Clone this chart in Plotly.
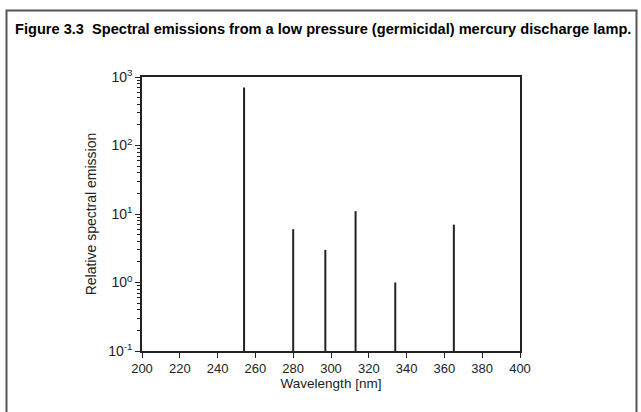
import plotly.graph_objects as go

wavelengths = [254, 280, 297, 313, 334, 365]
emission = [700, 6, 3, 11, 1.0, 7]
x_ticks = list(range(200, 401, 20))
y_tickvals = [0.1, 1, 10, 100, 1000]
y_ticktext = ["10<sup>-1</sup>", "10<sup>0</sup>", "10<sup>1</sup>", "10<sup>2</sup>", "10<sup>3</sup>"]
title_text = "Figure 3.3  Spectral emissions from a low pressure (germicidal) mercury discharge lamp."
x_title = "Wavelength [nm]"
y_title = "Relative spectral emission"

base = 0.1
xs, ys = [], []
for w, v in zip(wavelengths, emission):
    xs += [w, w, None]
    ys += [base, v, None]

fig = go.Figure()
fig.add_trace(go.Scatter(x=xs, y=ys, mode="lines",
                         line=dict(color="#222222", width=2), showlegend=False,
                         hoverinfo="skip"))

L, R, T, B = 142, 121, 77, 61
W, H = 641, 412
pw, ph = W - L - R, H - T - B

def px(x):
    return (x - L) / pw

def py(y):
    return (H - B - y) / ph

fig.add_shape(type="rect", xref="paper", yref="paper",
              x0=px(6.5), x1=px(636.5), y0=py(420), y1=py(10.5),
              line=dict(color="#555555", width=2), fillcolor="rgba(0,0,0,0)")

fig.add_annotation(text="<b>" + title_text + "</b>", xref="paper", yref="paper",
                   x=px(13), y=py(29), xanchor="left", yanchor="middle",
                   showarrow=False,
                   font=dict(family="Liberation Sans, Arial", size=14.6, color="black"))

fig.update_layout(
    width=W, height=H,
    margin=dict(l=L, r=R, t=T, b=B, pad=0),
    paper_bgcolor="white", plot_bgcolor="white",
    font=dict(family="Liberation Sans, Arial", size=13, color="#222222"),
)
fig.update_xaxes(range=[200, 400], tickvals=x_ticks, ticks="outside", ticklen=5,
                 tickcolor="#222222", showline=True, linecolor="#222222", linewidth=1.5,
                 mirror=True, showgrid=False, zeroline=False,
                 tickfont=dict(size=13),
                 title=dict(text=x_title, standoff=2, font=dict(size=13.5)))
fig.update_yaxes(type="log", range=[-1, 3], tickvals=y_tickvals, ticktext=y_ticktext,
                 ticks="outside", ticklen=5, tickcolor="#222222",
                 showline=True, linecolor="#222222", linewidth=1.5, mirror=True,
                 showgrid=False, zeroline=False,
                 tickfont=dict(size=14),
                 minor=dict(ticks="outside", ticklen=3, tickcolor="#222222", showgrid=False,
                            tickvals=[m * 10 ** e for e in range(-1, 3) for m in range(2, 10)]),
                 title=dict(text=y_title, standoff=8, font=dict(size=14)))

fig.write_html("out.html")
